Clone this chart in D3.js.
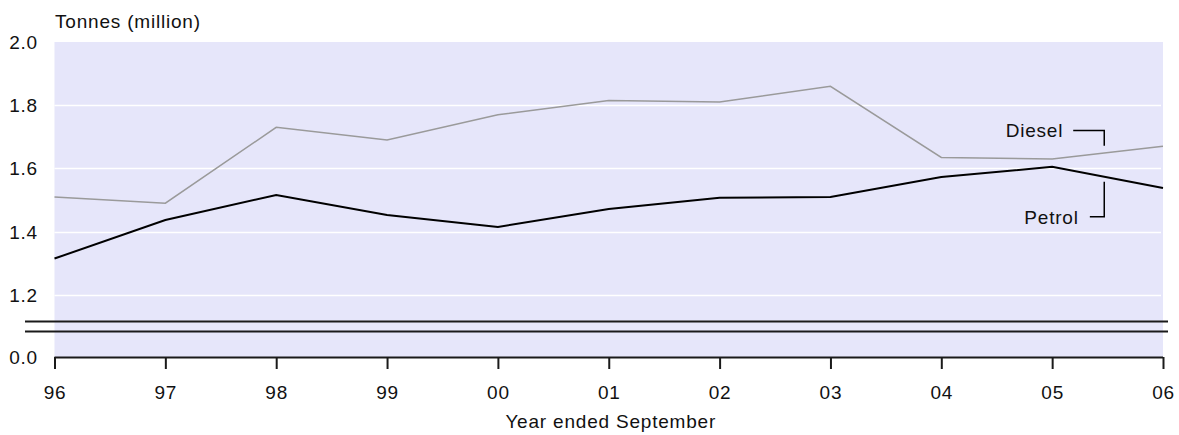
<!DOCTYPE html>
<html>
<head>
<meta charset="utf-8">
<script src="https://cdn.jsdelivr.net/npm/d3@7"></script>
<style>
  html, body { margin: 0; padding: 0; background: #ffffff; }
  svg { display: block; }
  text { font-family: "Liberation Sans", Arial, sans-serif; font-size: 19px; fill: #111; letter-spacing: 0.8px; }
</style>
</head>
<body>
<svg id="chart" width="1179" height="435"></svg>
<script>
// ---- data ----
const years = ["96","97","98","99","00","01","02","03","04","05","06"];
const diesel = [1.51, 1.49, 1.73, 1.69, 1.77, 1.815, 1.81, 1.86, 1.635, 1.63, 1.67];
const petrol = [1.315, 1.437, 1.516, 1.453, 1.415, 1.472, 1.507, 1.51, 1.573, 1.605, 1.538];
const yTicks = [0.0, 1.2, 1.4, 1.6, 1.8, 2.0];
const gridTicks = [1.2, 1.4, 1.6, 1.8];
const yTitle = "Tonnes (million)";
const xTitle = "Year ended September";

(function () {
// ---- layout ----
const svg = d3.select("#chart");
const pL = 54.5, pR = 1163, pT = 42, pB = 357;
const breakVal = 1.1;

const x = d3.scaleLinear().domain([0, years.length - 1]).range([pL, pR]);
const y = d3.scaleLinear().domain([0, breakVal, 2.0]).range([pB, pB - 30.5, pT]);

// background
svg.append("rect")
  .attr("x", pL).attr("y", pT)
  .attr("width", pR - pL).attr("height", pB - pT)
  .attr("fill", "#e6e6fa");

// grid
svg.append("g").selectAll("line").data(gridTicks).join("line")
  .attr("x1", pL).attr("x2", pR - 2)
  .attr("y1", d => Math.round(y(d)) + 0.5).attr("y2", d => Math.round(y(d)) + 0.5)
  .attr("stroke", "#ffffff").attr("stroke-width", 1.5);

// break lines
const yb = y(breakVal);
[-5, 5].forEach(o => {
  svg.append("line")
    .attr("x1", 25).attr("x2", 1168)
    .attr("y1", yb + o).attr("y2", yb + o)
    .attr("stroke", "#1a1a1a").attr("stroke-width", 1.8);
});

// lines
const line = d3.line().x((d, i) => x(i)).y(d => y(d));
svg.append("path").datum(diesel)
  .attr("d", line).attr("fill", "none")
  .attr("stroke", "#9a9a9a").attr("stroke-width", 1.5);
svg.append("path").datum(petrol)
  .attr("d", line).attr("fill", "none")
  .attr("stroke", "#000000").attr("stroke-width", 2);

// x axis
const xAxis = d3.axisBottom(x)
  .tickValues(d3.range(years.length))
  .tickFormat(i => years[i])
  .tickSize(12).tickPadding(17);
const gx = svg.append("g").attr("transform", `translate(0,${pB})`).call(xAxis);
gx.select(".domain").attr("stroke", "#1a1a1a").attr("stroke-width", 2).attr("d", `M${pL},0.5H${pR}`);
gx.selectAll(".tick line").attr("stroke", "#1a1a1a").attr("stroke-width", 2);
gx.selectAll(".tick text")
  .style("font-family", "Liberation Sans, Arial, sans-serif").style("font-size", "19px")
  .style("letter-spacing", "0.8px").attr("fill", "#111");

// y labels
svg.append("g").selectAll("text").data(yTicks).join("text")
  .attr("x", 38).attr("y", d => y(d))
  .attr("text-anchor", "end").attr("dy", "0.36em")
  .text(d => d.toFixed(1));

// titles
svg.append("text").attr("x", 55).attr("y", 28).text(yTitle);
svg.append("text").attr("x", (pL + pR) / 2 + 2).attr("y", 428)
  .attr("text-anchor", "middle").text(xTitle);

// series labels with leaders
const labels = [
  { name: "Diesel", tx: 9.1, ty: 1.72, lx1: 9.19, lxv: 9.47, y1: 1.72, y2: 1.672 },
  { name: "Petrol", tx: 9.24, ty: 1.447, lx1: 9.34, lxv: 9.47, y1: 1.447, y2: 1.558 }
];
labels.forEach(l => {
  svg.append("text").attr("x", x(l.tx)).attr("y", y(l.ty)).attr("dy", "0.36em")
    .attr("text-anchor", "end").text(l.name);
  svg.append("path")
    .attr("d", `M${x(l.lx1)},${y(l.y1)}H${x(l.lxv)}V${y(l.y2)}`)
    .attr("fill", "none").attr("stroke", "#000").attr("stroke-width", 1.5);
});
})();
</script>
</body>
</html>
